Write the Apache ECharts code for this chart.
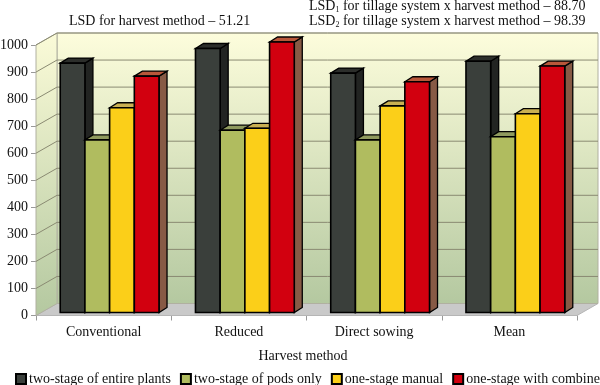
<!DOCTYPE html>
<html><head><meta charset="utf-8">
<style>html,body{margin:0;padding:0;background:#fff}#c{width:600px;height:385px}</style>
<script src="https://cdn.jsdelivr.net/npm/echarts@6/dist/echarts.min.js"></script>
</head><body><div id="c"></div>
<script>
const categories = ['Conventional', 'Reduced', 'Direct sowing', 'Mean'];
const seriesNames = ['two-stage of entire plants', 'two-stage of pods only', 'one-stage manual', 'one-stage with combine'];
const entirePlants = [922, 976, 885, 929];
const podsOnly = [638, 674, 638, 650];
const oneStageManual = [757, 681, 764, 735];
const oneStageCombine = [874, 1000, 853, 911];
const yTicks = [0, 100, 200, 300, 400, 500, 600, 700, 800, 900, 1000];

const FONT = '"Liberation Serif","Times New Roman",serif';
const DX = 21, DY = 12;          // wall depth
const BX = 8, BY = 5;            // bar depth
const BAR_W = 24.7, SHIFT_X = 6, SHIFT_Y = -3;
const palette = [
  {front:'#3a3f3b', top:'#2c2e2b', side:'#222422'},
  {front:'#b0bc5f', top:'#8f9a5e', side:'#7d8450'},
  {front:'#fbcf19', top:'#c9b052', side:'#a8923c'},
  {front:'#d2000f', top:'#b9573a', side:'#875a45'}
];
const valueLists = [entirePlants, podsOnly, oneStageManual, oneStageCombine];

function poly(points, fill, stroke, lw) {
  return {type:'polygon', shape:{points}, style:{fill, stroke:stroke||null, lineWidth:lw||0, lineJoin:'miter'}};
}
function wallItem(params) {
  const c = params.coordSys;
  const x0=c.x, x1=c.x+c.width, yT=c.y, yB=c.y+c.height;
  const grad = (a,b)=>new echarts.graphic.LinearGradient(0,0,0,1,[{offset:0,color:a},{offset:1,color:b}]);
  return {type:'group', children:[
    poly([[x0,yB],[x0+DX,yB-DY],[x1+DX,yB-DY],[x1,yB]], '#c9c9c9', '#b5b5b5', 1),
    poly([[x0+DX,yT-DY],[x1+DX,yT-DY],[x1+DX,yB-DY],[x0+DX,yB-DY]], grad('#fdfddc','#b4c8a0'), '#b0b0a0', 1),
    poly([[x0,yT],[x0+DX,yT-DY],[x0+DX,yB-DY],[x0,yB]], grad('#fbfbd8','#b4c8a0'), '#b0b0a0', 1)
  ]};
}
function gridItem(params, api) {
  const c = params.coordSys;
  const y = api.coord([0, api.value(0)])[1];
  if (api.value(0) === 0) return {type:'group', children:[]};
  const st = {stroke:'#8a8a72', lineWidth:1, fill:null};
  return {type:'group', children:[
    {type:'polyline', shape:{points:[[c.x,y],[c.x+DX,y-DY],[c.x+c.width+DX,y-DY]]}, style:st}
  ]};
}
function barRender(si) {
  return function(params, api) {
    const p = api.coord([api.value(0), api.value(1)]);
    const base = api.coord([api.value(0), 0]);
    const pal = palette[si];
    const x = p[0] + SHIFT_X + (si-2)*BAR_W;
    const yT = p[1] + SHIFT_Y, yB = base[1] + SHIFT_Y;
    const r = x + BAR_W;
    return {type:'group', children:[
      poly([[r,yT],[r+BX,yT-BY],[r+BX,yB-BY],[r,yB]], pal.side, '#000', 1.3),
      poly([[x,yT],[x+BX,yT-BY],[r+BX,yT-BY],[r,yT]], pal.top, '#000', 1.3),
      poly([[x,yT],[r,yT],[r,yB],[x,yB]], pal.front, '#000', 1.6)
    ]};
  };
}
const subRich = {
  b:{fontFamily:FONT,fontSize:14,fontWeight:'normal',color:'#111',lineHeight:15},
  s:{fontFamily:FONT,fontSize:8,fontWeight:'normal',color:'#111',lineHeight:15,verticalAlign:'bottom',padding:[5,0,0,0]}
};
const chart = echarts.init(document.getElementById('c'), null, {renderer:'canvas'});
chart.setOption({
  animation:false,
  backgroundColor:'#fff',
  title:[
    {text:'LSD for harvest method – 51.21', left:69, top:14, padding:0, textStyle:{fontFamily:FONT,fontSize:14,fontWeight:'normal',color:'#111'}},
    {text:'{b|LSD}{s|1}{b| for tillage system x harvest method – 88.70}', left:309, top:-1, padding:0, textStyle:{fontWeight:'normal',rich:subRich}},
    {text:'{b|LSD}{s|2}{b| for tillage system x harvest method – 98.39}', left:309, top:14, padding:0, textStyle:{fontWeight:'normal',rich:subRich}}
  ],
  legend:{
    data:seriesNames, left:15, top:372, width:900, itemWidth:10, itemHeight:10, itemGap:9, padding:0,
    icon:'rect',
    selectedMode:false,
    textStyle:{fontFamily:FONT,fontSize:14,color:'#111',padding:[0,0,0,-2]}
  },
  grid:{left:36, top:45, width:541, height:270.5, containLabel:false, outerBoundsMode:'none'},
  xAxis:{
    type:'category', data:categories, name:'Harvest method', nameLocation:'middle', nameGap:34,
    nameTextStyle:{fontFamily:FONT,fontSize:14,color:'#111',padding:[0,7,0,0]},
    axisLine:{lineStyle:{color:'#999',width:1}},
    axisTick:{show:true,alignWithLabel:false,length:5,lineStyle:{color:'#999'}},
    axisLabel:{fontFamily:FONT,fontSize:14,color:'#111',margin:10}
  },
  yAxis:{
    type:'value', min:0, max:1000, interval:100,
    axisLine:{show:true,lineStyle:{color:'#999',width:1}},
    axisTick:{show:true,length:5,lineStyle:{color:'#999'}},
    splitLine:{show:false},
    axisLabel:{fontFamily:FONT,fontSize:14,color:'#111',margin:8,formatter:v=>String(v)}
  },
  series:[
    {type:'custom', silent:true, clip:false, z:1, renderItem:wallItem, data:[[0,0]], encode:{x:0,y:1}, tooltip:{show:false}},
    {type:'custom', silent:true, clip:false, z:2, renderItem:gridItem, data:yTicks.map(v=>[v]), encode:{y:0}},
    ...seriesNames.map((name,si)=>({
      type:'custom', name, clip:false, z:3+si,
      renderItem:barRender(si),
      itemStyle:{color:palette[si].front, borderColor:'#000', borderWidth:1.5},
      encode:{x:0,y:1},
      data:valueLists[si].map((v,i)=>[i,v])
    }))
  ]
});
</script></body></html>
